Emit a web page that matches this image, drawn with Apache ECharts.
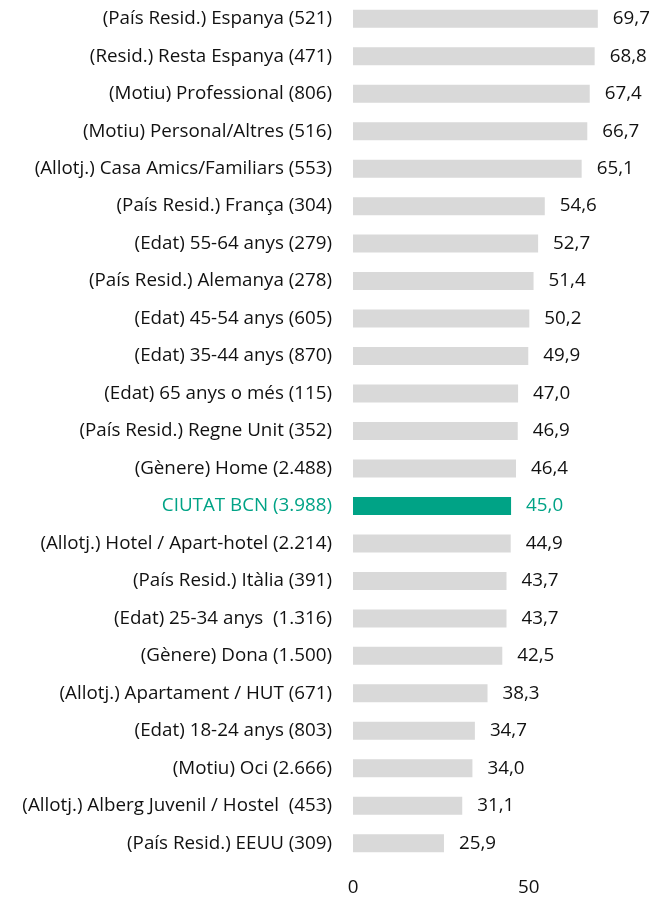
<!DOCTYPE html>
<html>
<head>
<meta charset="utf-8">
<script src="https://cdn.jsdelivr.net/npm/echarts@6/dist/echarts.min.js"></script>
<style>
  html, body { margin: 0; padding: 0; background: #ffffff; }
  #mainChart { width: 657px; height: 900px; }
</style>
</head>
<body>
<div id="mainChart"></div>
<script>
	// categories, top to bottom
	var categories = [
		'(País Resid.) Espanya (521)',
		'(Resid.) Resta Espanya (471)',
		'(Motiu) Professional (806)',
		'(Motiu) Personal/Altres (516)',
		'(Allotj.) Casa Amics/Familiars (553)',
		'(País Resid.) França (304)',
		'(Edat) 55-64 anys (279)',
		'(País Resid.) Alemanya (278)',
		'(Edat) 45-54 anys (605)',
		'(Edat) 35-44 anys (870)',
		'(Edat) 65 anys o més (115)',
		'(País Resid.) Regne Unit (352)',
		'(Gènere) Home (2.488)',
		'CIUTAT BCN (3.988)',
		'(Allotj.) Hotel / Apart-hotel (2.214)',
		'(País Resid.) Itàlia (391)',
		'(Edat) 25-34 anys  (1.316)',
		'(Gènere) Dona (1.500)',
		'(Allotj.) Apartament / HUT (671)',
		'(Edat) 18-24 anys (803)',
		'(Motiu) Oci (2.666)',
		'(Allotj.) Alberg Juvenil / Hostel  (453)',
		'(País Resid.) EEUU (309)'
	];
	var values = [69.7, 68.8, 67.4, 66.7, 65.1, 54.6, 52.7, 51.4, 50.2, 49.9, 47.0, 46.9, 46.4,
		45.0, 44.9, 43.7, 43.7, 42.5, 38.3, 34.7, 34.0, 31.1, 25.9];
	var highlight = 'CIUTAT BCN (3.988)';

	var grey = '#d9d9d9';
	var teal = '#00a386';
	var font = '"Open Sans", sans-serif';
	var fsize = 18.8;

	var myChart = echarts.init(document.getElementById('mainChart'));

	var serData = [];
	for (var i = 0; i < values.length; i++) {
		var hl = categories[i] === highlight;
		serData.push({
			value: values[i],
			itemStyle: { color: hl ? teal : grey },
			label: { color: hl ? teal : '#111111' }
		});
	}

	var option = {
		backgroundColor: '#ffffff',
		animation: false,
		grid: { left: 353, right: 23, top: 0, bottom: 38 },
		xAxis: {
			type: 'value',
			min: 0,
			max: 80,
			interval: 50,
			axisLine: { show: false },
			axisTick: { show: false },
			splitLine: { show: false },
			axisLabel: {
				showMaxLabel: false,
				margin: 16,
				fontSize: fsize,
				fontFamily: font,
				color: '#111111'
			}
		},
		yAxis: {
			type: 'category',
			inverse: true,
			data: categories,
			axisLine: { show: false },
			axisTick: { show: false },
			axisLabel: {
				margin: 21,
				fontSize: fsize,
				fontFamily: font,
				color: function (v) { return v === highlight ? teal : '#111111'; }
			}
		},
		series: [{
			type: 'bar',
			data: serData,
			barWidth: 18,
			label: {
				show: true,
				position: 'right',
				distance: 15,
				fontSize: fsize,
				fontFamily: font,
				formatter: function (p) { return p.value.toFixed(1).replace('.', ','); }
			}
		}]
	};
	myChart.setOption(option);
</script>
</body>
</html>
